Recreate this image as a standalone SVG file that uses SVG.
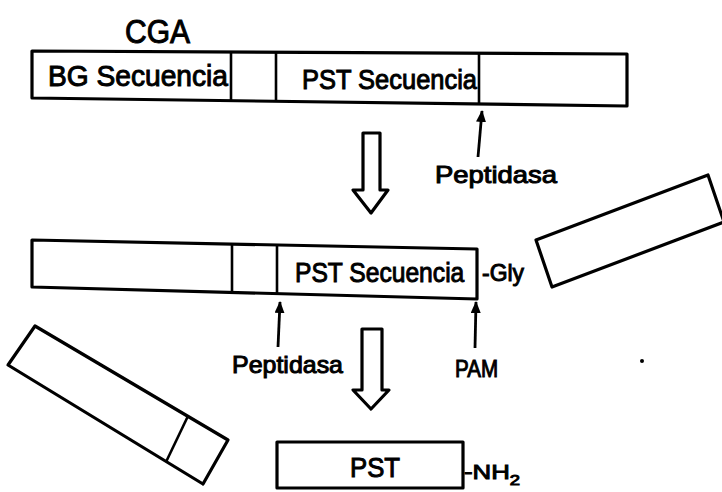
<svg xmlns="http://www.w3.org/2000/svg" width="722" height="492" viewBox="0 0 722 492">
<style>
.box{fill:#fff;stroke:#000;stroke-width:3.2;stroke-linejoin:round}
.div{stroke:#000;stroke-width:2.6;fill:none}
.t{font-family:"Liberation Sans",Arial,sans-serif;fill:#000;stroke:#000;stroke-width:1}
.thin{stroke:#000;stroke-width:2.8;fill:none}
.hollow{fill:#fff;stroke:#000;stroke-width:3.2;stroke-linejoin:round}
</style>
<defs>
<marker id="ah" viewBox="0 0 12 10" refX="11" refY="5" markerWidth="12" markerHeight="10" orient="auto" markerUnits="userSpaceOnUse">
<path d="M0,0 L12,5 L0,10 z" fill="#000"/>
</marker>
</defs>
<rect width="722" height="492" fill="#fff"/>

<g id="label-cga">
<text class="t" x="125" y="43" font-size="33" textLength="65" lengthAdjust="spacingAndGlyphs">CGA</text>
</g>

<g id="bar-cga">
<polygon class="box" points="32,51 627,54 627,106 32,98"/>
<line class="div" x1="231" y1="52" x2="231" y2="100.7"/>
<line class="div" x1="276" y1="52.2" x2="276" y2="101.3"/>
<line class="div" x1="479" y1="53.3" x2="479" y2="104"/>
<text class="t" x="48" y="86" font-size="29" textLength="180" lengthAdjust="spacingAndGlyphs">BG Secuencia</text>
<text class="t" x="302" y="89" font-size="27" textLength="175" lengthAdjust="spacingAndGlyphs">PST Secuencia</text>
</g>

<g id="label-peptidasa-1">
<text class="t" x="435" y="183" font-size="24" textLength="122" lengthAdjust="spacingAndGlyphs">Peptidasa</text>
</g>

<g id="bar-intermediate">
<polygon class="box" points="32,240 477,249 477,299 32,287"/>
<line class="div" x1="232" y1="244" x2="232" y2="292.4"/>
<line class="div" x1="277" y1="245" x2="277" y2="293.6"/>
<text class="t" transform="translate(295,282) scale(0.88,1)" x="0" y="0" font-size="28">PST Secuencia</text>
<text class="t" x="482" y="281" font-size="24" textLength="42" lengthAdjust="spacingAndGlyphs">-Gly</text>
</g>

<g id="rect-right">
<polygon class="box" points="536,240 708,175 724,222 552,287"/>
</g>

<g id="rect-left">
<polygon class="box" points="35,326 228,440 203,484 8,365"/>
<line class="div" x1="188" y1="416" x2="166" y2="462"/>
</g>

<g id="label-peptidasa-2">
<text class="t" x="232" y="373" font-size="24" textLength="111" lengthAdjust="spacingAndGlyphs">Peptidasa</text>
</g>

<g id="label-pam">
<text class="t" x="455" y="377" font-size="24" textLength="43" lengthAdjust="spacingAndGlyphs">PAM</text>
</g>

<g id="bar-pst">
<rect class="box" x="277" y="442" width="186" height="46"/>
<text class="t" x="350" y="477" font-size="28" textLength="50" lengthAdjust="spacingAndGlyphs">PST</text>
<text class="t" x="464" y="479" font-size="21" textLength="56" lengthAdjust="spacingAndGlyphs">-NH<tspan font-size="15" dy="6">2</tspan></text>
</g>

<g id="connectors">
<line class="thin" x1="478" y1="157" x2="482" y2="111" marker-end="url(#ah)"/>
<line class="thin" x1="278" y1="347" x2="280" y2="302" marker-end="url(#ah)"/>
<line class="thin" x1="475" y1="348" x2="476" y2="302" marker-end="url(#ah)"/>
<path class="hollow" d="M363,133 L380,133 L380,190 L388,190 L371,213 L353,190 L363,190 Z"/>
<path class="hollow" d="M362,329 L382,329 L382,390 L389,390 L371,409 L353,390 L362,390 Z"/>
</g>

<circle cx="642" cy="361" r="2" fill="#000"/>
</svg>
